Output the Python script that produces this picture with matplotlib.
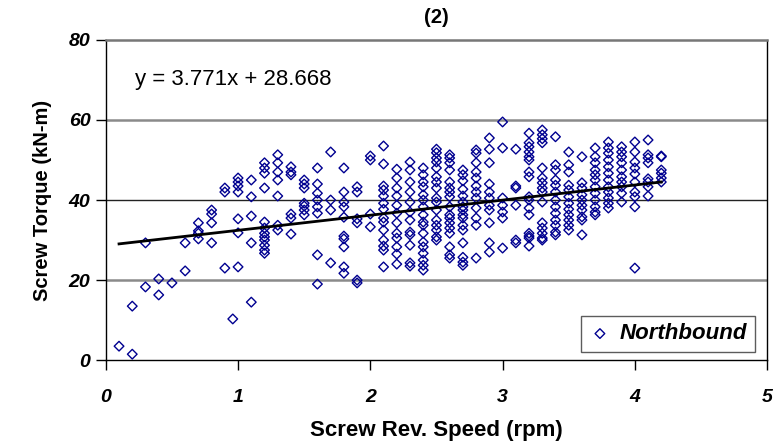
import numpy as np
import matplotlib.pyplot as plt

# screw speed columns (rpm) and torque readings (kN-m) at each speed
speed_cols = [0.1, 0.2, 0.3, 0.4, 0.5, 0.6, 0.7, 0.8, 0.9, 0.96, 1.0,
              1.1, 1.2, 1.3, 1.4, 1.5, 1.6, 1.7, 1.8, 1.9, 2.0,
              2.1, 2.2, 2.3, 2.4, 2.5, 2.6, 2.7, 2.8, 2.9, 3.0,
              3.1, 3.2, 3.3, 3.4, 3.5, 3.6, 3.7, 3.8, 3.9, 4.0,
              4.1, 4.2]
torque_cols = [
    [3.5],
    [1.5, 13.5],
    [29.3, 18.3],
    [20.3, 16.3],
    [19.3],
    [29.3, 22.3],
    [34.3, 32.3, 31.7, 30.3],
    [37.5, 36.5, 34.3, 29.3],
    [23, 43, 42],
    [10.3],
    [45.5, 44.5, 43.5, 42, 35.3, 31.8, 23.3],
    [45, 40.8, 36, 29.3, 14.5],
    [49.3, 48, 46.7, 43, 34.5, 33, 31.7, 30.8, 30, 28.7, 27.5, 26.7],
    [51.3, 49.3, 47, 45, 41, 33.7, 32.5],
    [48.3, 47, 46.3, 36.5, 35.5, 31.5],
    [45, 44, 43, 39.2, 38.5, 37.5, 36.3],
    [48, 44, 41.7, 40, 38.3, 36.7, 26.3, 19],
    [52, 40, 37.5, 24.3],
    [48, 42, 39.5, 38.3, 35.7, 31, 30.3, 28.3, 23.3, 21.7],
    [43.3, 42, 35.3, 34.3, 20, 19.3],
    [51, 50, 36.5, 33.3],
    [53.5, 49, 43.5, 42.5, 41, 39.2, 37.7, 35.5, 34.5, 32.5, 30, 28.5, 27.5, 23.3],
    [47.7, 45.5, 43, 41, 38.7, 36.7, 34.3, 31.7, 30.5, 28.3, 26.5, 24],
    [49.5, 47.5, 44.5, 42, 39.5, 37, 35, 32, 31.3, 28.7, 24.3, 23.5],
    [48, 46.3, 44.5, 43.3, 41.3, 40, 38.3, 36.3, 34.5, 33.7, 31.7, 29.5,
     28.3, 26.7, 25, 23.7, 22.5],
    [52.7, 51.8, 50.5, 49.5, 48, 45.8, 44.5, 43, 40.5, 39.5, 37.5, 35,
     33.7, 32.5, 30.8, 30],
    [51.3, 50.5, 49.3, 47.5, 44.5, 43, 42, 40.8, 38.3, 36.3, 35.5, 34.3,
     33, 31.7, 28.3, 26.3, 25.5],
    [47.5, 46.3, 44.8, 42.7, 41, 39.5, 38.3, 37.5, 36.3, 35.5, 33.7, 32.5,
     29.3, 25.7, 24.5, 23.7],
    [52.5, 51.7, 49.3, 47, 45.5, 43.5, 42, 40.5, 38, 35.5, 33.7, 25.5],
    [55.5, 52.7, 49.3, 44, 42, 40.5, 38.7, 37.5, 34.3, 29.3, 27],
    [59.5, 53, 40.5, 38.7, 37, 35.5, 28],
    [52.7, 43.5, 43, 38.7, 30, 29.3],
    [56.7, 54.3, 53.3, 52, 50.8, 50, 47, 45.8, 40.8, 40, 38, 36.3, 31.7,
     31, 30.5, 28.5],
    [57.5, 56.3, 55.3, 54.3, 48, 45.5, 44.3, 43, 42, 39.5, 34.3, 33, 31.7,
     30.5, 30],
    [55.8, 48.8, 47.5, 45, 43.7, 42, 40, 38.3, 36.7, 35, 33.7, 32, 31.3],
    [52, 48.8, 47, 43.7, 42.5, 40.8, 39.2, 37.7, 36.3, 35, 33.7, 32.5],
    [50.8, 44.3, 43, 41.3, 40, 38.7, 37.5, 35.8, 35, 31.3],
    [53, 50.8, 49.3, 47.5, 46.3, 45, 43.3, 41.7, 40, 38.3, 37, 36.3],
    [54.5, 53, 51.7, 50, 48.3, 46.7, 45, 43.3, 42, 40.5, 39.2, 38],
    [53.3, 52, 50.8, 49.3, 47.5, 45.8, 44.5, 43.3, 41.7, 39.5],
    [54.5, 52, 49.5, 48, 46.5, 44.5, 42, 40.8, 38.3, 23],
    [55, 51.3, 50.5, 49.3, 45.3, 44.5, 43.3, 41],
    [51, 50.8, 47.5, 46.7, 45.5, 44.5],
]

# trendline shown on the chart
slope = 3.771
intercept = 28.668

x_ticks = [0, 1, 2, 3, 4, 5]
y_ticks = [0, 20, 40, 60, 80]

plt.rcParams['font.family'] = ['Liberation Sans', 'DejaVu Sans']

speed = np.concatenate([[s] * len(t) for s, t in zip(speed_cols, torque_cols)])
torque = np.concatenate(torque_cols)

fig = plt.figure(figsize=(7.78, 4.48), dpi=100)
ax = fig.add_axes([0.136, 0.196, 0.850, 0.715])

for yv, c, lw in [(20, '#8a8a8a', 1.8), (40, '#222222', 1.0), (60, '#8a8a8a', 1.8)]:
    ax.axhline(yv, color=c, lw=lw, zorder=1)

ax.scatter(speed, torque, marker='D', s=24, facecolors='none',
           edgecolors='#000090', linewidths=1.0, zorder=3, label='Northbound')

xl = np.array([speed.min(), speed.max()])
ax.plot(xl, slope * xl + intercept, color='black', lw=2, zorder=4)

ax.text(0.22, 70, 'y = 3.771x + 28.668', fontsize=16, va='center', ha='left')

ax.set_xlim(0, 5)
ax.set_ylim(0, 80)
ax.set_xticks(x_ticks)
ax.set_yticks(y_ticks)
ax.tick_params(direction='out', length=7, width=1, color='black')
ax.tick_params(axis='x', pad=14)
ax.tick_params(axis='y', pad=4)
for lab in ax.get_xticklabels() + ax.get_yticklabels():
    lab.set_fontweight('bold')
    lab.set_fontstyle('italic')
    lab.set_fontsize(14)

ax.spines['top'].set_color('#777777')
ax.spines['top'].set_linewidth(1.8)
for sp in ['left', 'bottom', 'right']:
    ax.spines[sp].set_color('black')
    ax.spines[sp].set_linewidth(1)

ax.set_xlabel('Screw Rev. Speed (rpm)', fontsize=16, fontweight='bold', labelpad=10)
ax.set_ylabel('Screw Torque (kN-m)', fontsize=14.5, fontweight='bold', labelpad=12)
ax.set_title('(2)', fontsize=14.5, fontweight='bold', pad=12)

leg = ax.legend(loc='lower right', frameon=True, fancybox=False,
                prop={'weight': 'bold', 'style': 'italic', 'size': 16},
                handletextpad=0.4, borderpad=0.35, handlelength=1.0,
                borderaxespad=0, bbox_to_anchor=(0.982, 0.025))
leg.get_frame().set_edgecolor('#333333')
leg.get_frame().set_linewidth(1.0)

fig.savefig('out.png', dpi=100)
